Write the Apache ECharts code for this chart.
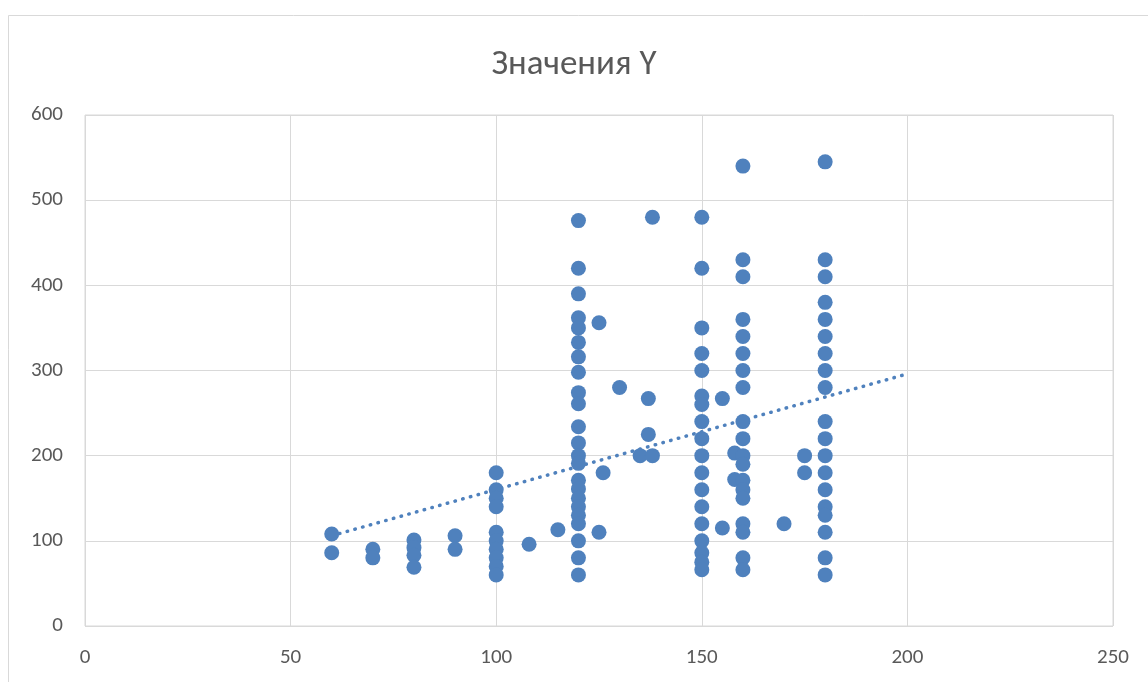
<!DOCTYPE html>
<html><head><meta charset="utf-8">
<script src="https://cdn.jsdelivr.net/npm/echarts@6/dist/echarts.min.js"></script>
<style>html,body{margin:0;padding:0;background:#fff}#c{width:1148px;height:682px}</style>
</head><body><div id="c"></div>
<script>
const title = 'Значения Y';
const xTicks = [0, 50, 100, 150, 200, 250];
const yTicks = [0, 100, 200, 300, 400, 500, 600];
// Scatter points [x, y]
const pts60 = [[60,108],[60,86]];
const pts70 = [[70,90],[70,80]];
const pts80 = [[80,101],[80,92],[80,83],[80,69]];
const pts90 = [[90,106],[90,90]];
const pts100 = [[100,180],[100,160],[100,150],[100,140],[100,110],[100,100],[100,90],[100,80],[100,70],[100,60]];
const ptsMisc1 = [[108,96],[115,113],[125,356],[130,280],[137,267],[137,225],[138,480],[126,180],[125,110],[135,200],[138,200]];
const pts120 = [476,420,390,362,350,333,316,298,274,261,234,215,200,191,171,161,150,140,130,120,100,80,60];
const pts150 = [480,420,350,320,300,270,260,240,220,200,180,160,140,120,100,86,75,66];
const ptsMisc2 = [[155,267],[155,115],[158,203],[158,172],[170,120],[175,200],[175,180]];
const pts160 = [540,430,410,360,340,320,300,280,240,220,200,190,171,160,150,120,110,80,66];
const pts180 = [545,430,410,380,360,340,320,300,280,240,220,200,180,160,140,130,110,80,60];
const trend = [[60,106],[200,296]];

const data = [].concat(pts60, pts70, pts80, pts90, pts100, ptsMisc1,
  pts120.map(v=>[120,v]), pts150.map(v=>[150,v]), ptsMisc2,
  pts160.map(v=>[160,v]), pts180.map(v=>[180,v]));

const chart = echarts.init(document.getElementById('c'));
const font = 'Carlito, Lato, "Noto Sans", sans-serif';
chart.setOption({
  animation: false,
  backgroundColor: '#fff',
  graphic: [{type:'rect', shape:{x:8.5,y:15.5,width:1160,height:700}, style:{fill:'none', stroke:'#d9d9d9', lineWidth:1}, silent:true}],
  title: {text: title, left: 'center', top: 43, textStyle:{fontFamily: font, fontSize: 35, fontWeight:'normal', color:'#595959'}},
  grid: {left: 85, right: 35, top: 115, bottom: 56, show:true, borderColor:'#d9d9d9', borderWidth:1},
  xAxis: {type:'value', min: xTicks[0], max: xTicks[xTicks.length-1], interval: 50,
    axisLine:{show:false}, axisTick:{show:false},
    axisLabel:{fontFamily: font, fontSize: 21, color:'#595959', margin: 21},
    splitLine:{show:true, lineStyle:{color:'#d9d9d9', width:1}}},
  yAxis: {type:'value', min: yTicks[0], max: yTicks[yTicks.length-1], interval: 100,
    axisLine:{show:false}, axisTick:{show:false},
    axisLabel:{fontFamily: font, fontSize: 21, color:'#595959', margin: 22},
    splitLine:{show:true, lineStyle:{color:'#d9d9d9', width:1}}},
  series: [
    {type:'scatter', data: data, symbolSize: 15, itemStyle:{color:'#4f81bd', opacity:1}, z:3},
    {type:'line', data: trend, symbol:'none', lineStyle:{color:'#4f81bd', width:3.5, type:[0.5,7.5], cap:'round'}, z:2}
  ]
});
</script></body></html>
